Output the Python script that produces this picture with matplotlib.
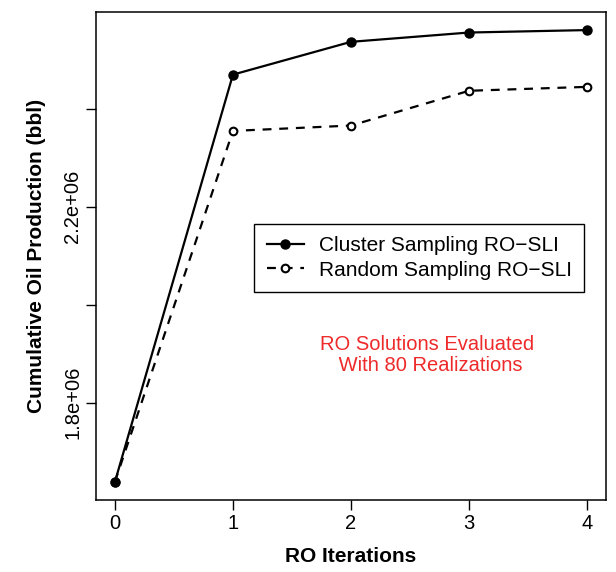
import matplotlib
matplotlib.use("Agg")
import matplotlib.pyplot as plt

plt.rcParams["font.family"] = ["Liberation Sans", "DejaVu Sans"]

# data
iterations = [0, 1, 2, 3, 4]
cluster = [1.638e6, 2.470e6, 2.537e6, 2.556e6, 2.561e6]
random_s = [1.638e6, 2.355e6, 2.366e6, 2.437e6, 2.445e6]
yticks = [1.8e6, 2.0e6, 2.2e6, 2.4e6]
yticklabels = ["1.8e+06", "", "2.2e+06", ""]

fig = plt.figure(figsize=(6.16, 5.72), dpi=100)
ax = fig.add_axes([96/616, 1 - 500/572, 510/616, 488/572])

ax.plot(iterations, random_s, ls=(0, (4, 3.5)), color="black", lw=1.6,
        marker="o", ms=5.5, mfc="white", mec="black", mew=1.5,
        label="Random Sampling RO\u2212SLI", zorder=2)
ax.plot(iterations, cluster, ls="-", color="black", lw=1.6,
        marker="o", ms=6.5, mfc="black", mec="black",
        label="Cluster Sampling RO\u2212SLI", zorder=3)

# R-style 4% padding
xr = max(iterations) - min(iterations)
ax.set_xlim(min(iterations) - 0.04 * xr, max(iterations) + 0.04 * xr)
lo, hi = min(cluster + random_s), max(cluster + random_s)
ax.set_ylim(lo - 0.04 * (hi - lo), hi + 0.04 * (hi - lo))

ax.set_xticks(iterations)
ax.set_xticklabels([str(i) for i in iterations], fontsize=14.5)
ax.set_yticks(yticks)
ax.set_yticklabels(yticklabels, fontsize=14.5, rotation=90, va="center")
ax.tick_params(length=7, width=1)
ax.tick_params(axis="x", pad=3)
ax.tick_params(axis="y", pad=3)

ax.set_xlabel("RO Iterations", fontsize=15, fontweight="bold", labelpad=10)
ax.set_ylabel("Cumulative Oil Production (bbl)", fontsize=15, fontweight="bold", labelpad=12)
for s in ax.spines.values():
    s.set_linewidth(1.1)

h, l = ax.get_legend_handles_labels()
leg = ax.legend(h[::-1], l[::-1], loc="upper left", bbox_to_anchor=(0.31, 0.566),
                borderaxespad=0, fancybox=False, edgecolor="black", framealpha=1,
                fontsize=15, handlelength=1.8, handletextpad=0.7, borderpad=0.6,
                labelspacing=0.25)
leg.get_frame().set_linewidth(1.0)

ax.text(0.65, 0.297, "RO Solutions Evaluated\n With 80 Realizations", transform=ax.transAxes,
        ha="center", va="center", color="#ee2a2a", fontsize=14.5, linespacing=1.1)

fig.savefig("out.png", dpi=100)
